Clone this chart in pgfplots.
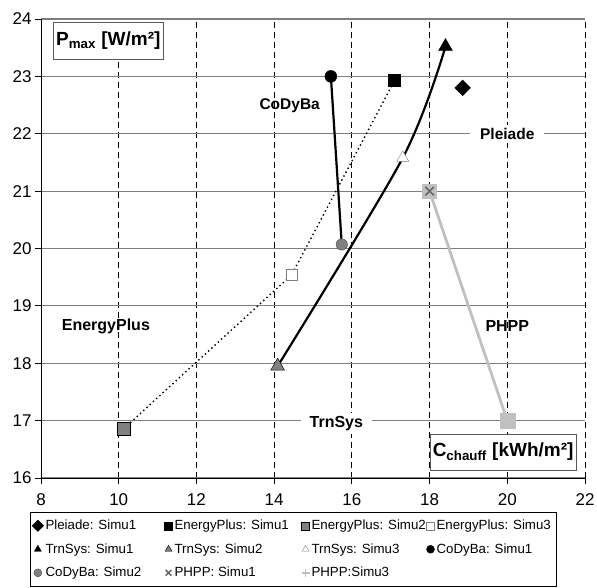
\documentclass[border=0pt]{standalone}
\usepackage{fontspec}
\setmainfont{Liberation Sans}
\usepackage{pgfplots}
\pgfplotsset{compat=1.18}
\definecolor{gridgray}{HTML}{7F7F7F}
\definecolor{midgray}{HTML}{808080}
\definecolor{lgray}{HTML}{C0C0C0}
\begin{document}
\begin{tikzpicture}
\begin{axis}[
 scale only axis, width=544pt, height=459pt,
 xmin=8, xmax=22, ymin=16, ymax=24,
 xtick={8,10,...,22}, ytick={16,17,...,24},
 axis lines=left, axis line style={-, black, line width=0.8pt},
 tick align=outside, major tick length=6pt, tick style={black, line width=0.8pt},
 xmajorgrids, ymajorgrids,
 x grid style={black, line width=0.8pt, dash pattern=on 6pt off 4pt},
 y grid style={gridgray, line width=1.1pt},
 ticklabel style={font=\fontsize{17}{20}\selectfont},
 xticklabel style={yshift=-6pt},
 /pgf/number format/assume math mode=true,
 legend columns=4,
 legend style={at={(axis description cs:-0.0202,-0.074)}, anchor=north west, draw=black, font=\fontsize{13.3}{16}\selectfont, row sep=8.4pt, inner xsep=2pt, inner ysep=6pt, column sep=0pt},
 legend cell align=left,
 legend image code/.code={\draw[#1, mark size=4pt] plot coordinates {(0pt,0pt)};},
 clip=false,
]
% connecting lines
\addplot[black, line width=1.4pt, dash pattern=on 1.4pt off 3pt, forget plot] coordinates {(10.13,16.86)(14.45,19.54)(17.1,22.93)};
\addplot[black, line width=2.2pt, forget plot] coordinates {(15.46,23.0)(15.74,20.07)};
\addplot[black, line width=2.2pt, smooth, forget plot] coordinates {(14.09,17.95)(17.31,21.58)(18.41,23.52)};
\addplot[lgray, line width=2.8pt, forget plot] coordinates {(18,21)(20,17)};
% markers
\addplot[only marks, mark=square*, mark size=5.6pt, mark options={rotate=45, fill=black, draw=black}] coordinates {(18.85,22.8)};
\addlegendentry{\makebox[117pt][l]{Pleiade: Simu1}}
\addplot[only marks, mark=square*, mark size=6pt, mark options={fill=black, draw=black}] coordinates {(17.1,22.93)};
\addlegendentry{\makebox[125pt][l]{EnergyPlus: Simu1}}
\addplot[only marks, mark=square*, mark size=6.2pt, mark options={fill=midgray, draw=black}] coordinates {(10.13,16.86)};
\addlegendentry{\makebox[113pt][l]{EnergyPlus: Simu2}}
\addplot[only marks, mark=square*, mark size=5.3pt, mark options={fill=white, draw=gray}] coordinates {(14.45,19.54)};
\addlegendentry{\makebox[116pt][l]{EnergyPlus: Simu3}}
\addplot[only marks, mark=triangle*, mark size=8pt, mark options={fill=black, draw=black}] coordinates {(18.41,23.52)};
\addlegendentry{\makebox[117pt][l]{TrnSys: Simu1}}
\addplot[only marks, mark=triangle*, mark size=8pt, mark options={fill=midgray, draw=black}] coordinates {(14.09,17.95)};
\addlegendentry{\makebox[125pt][l]{TrnSys: Simu2}}
\addplot[only marks, mark=triangle*, mark size=7pt, mark options={fill=white, draw=gray}] coordinates {(17.31,21.58)};
\addlegendentry{\makebox[113pt][l]{TrnSys: Simu3}}
\addplot[only marks, mark=*, mark size=6pt, mark options={fill=black, draw=black}] coordinates {(15.46,23.0)};
\addlegendentry{\makebox[116pt][l]{CoDyBa: Simu1}}
\addplot[only marks, mark=*, mark size=5.7pt, mark options={fill=midgray, draw=gray!60!black}] coordinates {(15.74,20.07)};
\addlegendentry{\makebox[117pt][l]{CoDyBa: Simu2}}
\addplot[only marks, mark=square*, mark size=7pt, mark options={fill=lgray, draw=lgray}, forget plot] coordinates {(18,21)};
\addplot[only marks, mark=x, mark size=6pt, mark options={draw=gray!80!black, line width=1.5pt}] coordinates {(18,21)};
\addlegendentry{\makebox[125pt][l]{PHPP: Simu1}}
\addplot[only marks, mark=square*, mark size=7.5pt, mark options={fill=lgray, draw=lgray},
  legend image code/.code={\draw[lgray!70!black, line width=1.5pt] plot[mark=+, mark size=4pt] coordinates {(0pt,0pt)};}] coordinates {(20,17)};
\addlegendentry{\makebox[113pt][l]{PHPP:Simu3}}
% labels
\node[font=\bfseries\fontsize{15.5}{18}\selectfont] at (axis cs:14.4,22.49) {CoDyBa};
\node[fill=white, inner xsep=10pt, font=\bfseries\fontsize{15.5}{18}\selectfont] at (axis cs:20,22) {Pleiade};
\node[font=\bfseries\fontsize{16}{18}\selectfont] at (axis cs:9.67,18.65) {EnergyPlus};
\node[font=\bfseries\fontsize{16}{18}\selectfont] at (axis cs:20,18.65) {PHPP};
\node[fill=white, inner xsep=9pt, font=\bfseries\fontsize{16}{18}\selectfont] at (axis cs:15.6,16.95) {TrnSys};
\node[draw=gray!70!black, fill=white, anchor=north west, font=\bfseries\fontsize{19}{21}\selectfont, inner xsep=3pt, minimum height=37pt] at (axis cs:8.31,23.95) {P\textsubscript{max} [W/m²]};
\node[draw=gray!70!black, fill=white, anchor=north west, font=\bfseries\fontsize{19}{21}\selectfont, inner xsep=3pt, minimum height=36pt] at (axis cs:18,16.77) {C\textsubscript{chauff} [kWh/m²]};
\coordinate (bl) at (rel axis cs:0,0);
\end{axis}
\pgfresetboundingbox
\path (bl) ++(-41pt,-109pt) rectangle ++(597pt,587pt);
\end{tikzpicture}
\end{document}
